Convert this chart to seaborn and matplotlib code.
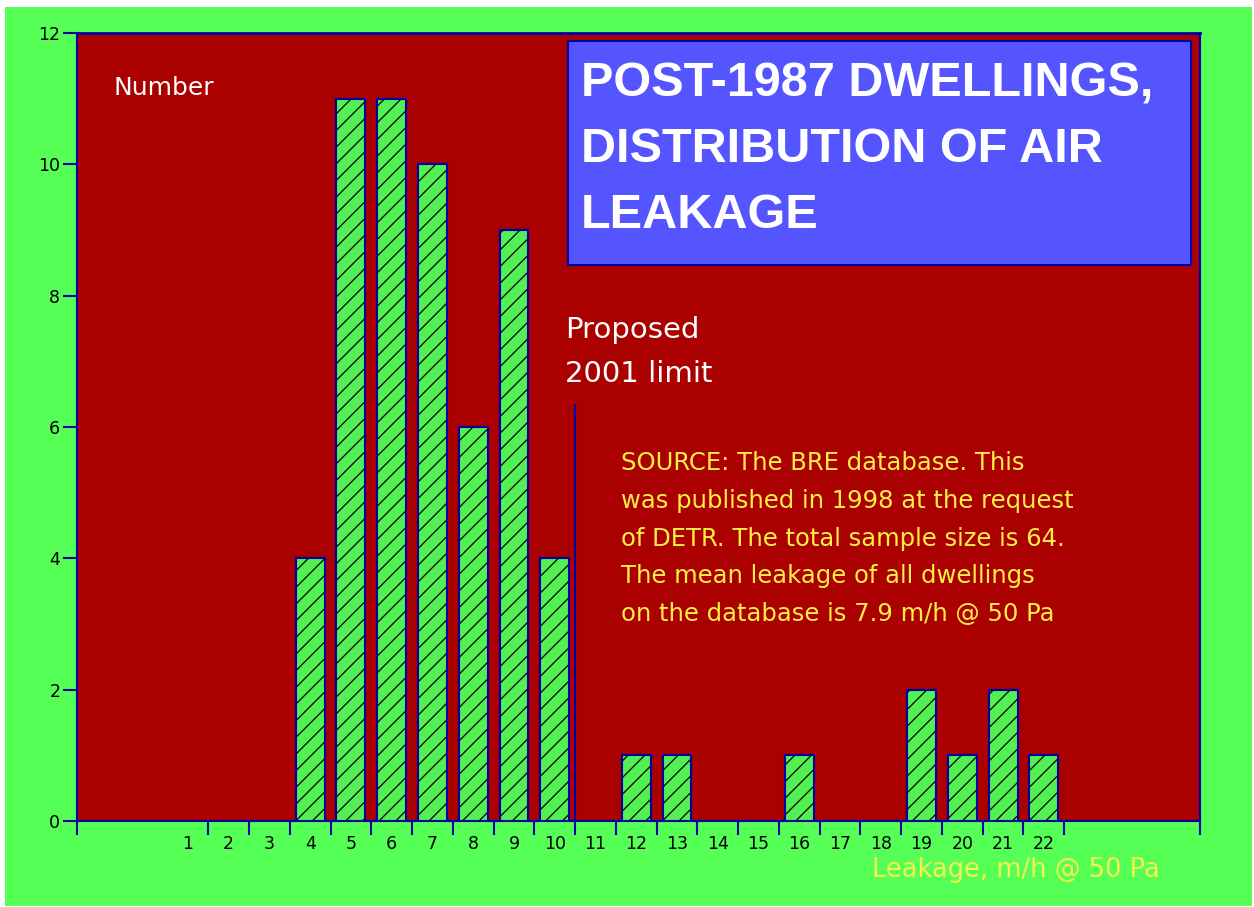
import matplotlib
matplotlib.use("Agg")
import matplotlib.pyplot as plt
import seaborn as sns
import pandas as pd
from matplotlib.patches import Rectangle

# ---------------- data ----------------
leakage_bins = [str(i) for i in range(1, 23)]
bar_bins = ["4", "5", "6", "7", "8", "9", "10", "12", "13", "16", "19", "20", "21", "22"]
bar_counts = [4, 11, 11, 10, 6, 9, 4, 1, 1, 1, 2, 1, 2, 1]
y_ticks = [0, 2, 4, 6, 8, 10, 12]
limit_after_bin = "10"      # proposed 2001 limit sits between bins 10 and 11
limit_height = 6.33
title_lines = ["POST-1987 DWELLINGS,", "DISTRIBUTION OF AIR", "LEAKAGE"]
source_lines = [
    "SOURCE: The BRE database. This",
    "was published in 1998 at the request",
    "of DETR. The total sample size is 64.",
    "The mean leakage of all dwellings",
    "on the database is 7.9 m/h @ 50 Pa",
]
limit_lines = ["Proposed", "2001 limit"]
y_label = "Number"
x_label = "Leakage, m/h @ 50 Pa"

# ---------------- style ----------------
GREEN = "#55FF55"
BAR_GREEN = "#52F052"
RED = "#AA0000"
EDGE_BLUE = "#0000AA"
BOX_BLUE = "#5555FF"
YELLOW = "#FFEE44"
YELLOW2 = "#F4F050"

sns.set_style("white")
plt.rcParams["font.family"] = ["DejaVu Sans"]
plt.rcParams["hatch.linewidth"] = 0.9

W, H = 1254, 907
fig = plt.figure(figsize=(W / 100, H / 100), dpi=100, facecolor="white")
fig.add_artist(Rectangle((5 / W, 1 / H), 1 - 7 / W, 1 - 8 / H, transform=fig.transFigure,
                         facecolor=GREEN, edgecolor="none", zorder=-10))

L, R, T, B = 77, 1200, 33, 821
ax = fig.add_axes([L / W, 1 - B / H, (R - L) / W, (B - T) / H])
ax.set_facecolor(RED)


def af(xpx, ypx):
    return ((xpx - L) / (R - L), (B - ypx) / (B - T))


df = pd.DataFrame({"bin": bar_bins, "count": bar_counts})
sns.barplot(data=df, x="bin", y="count", order=leakage_bins, color=BAR_GREEN,
            saturation=1, width=0.71, edgecolor=EDGE_BLUE, linewidth=1.5,
            hatch="//", errorbar=None, ax=ax, zorder=3)
for p in ax.patches:
    if hasattr(p, "set_hatchcolor"):
        p.set_hatchcolor("black")
    else:
        p._hatch_color = (0, 0, 0, 1)
    p.stale = True

n = len(leakage_bins)
xmin, xmax = -2.72, 24.83
ax.set_xlim(xmin, xmax)
ax.set_ylim(0, 12)
ax.set_xlabel("")
ax.set_ylabel("")

boundaries = [xmin] + [i + 0.5 for i in range(n)] + [xmax]
ax.set_xticks(boundaries, labels=[""] * len(boundaries))
ax.set_xticks(list(range(n)), labels=leakage_bins, minor=True)
ax.tick_params(axis="x", which="major", direction="out", length=10, width=1.5,
               color=EDGE_BLUE, bottom=True)
ax.tick_params(axis="x", which="minor", length=0, pad=10, labelsize=12.5,
               labelcolor="black", bottom=True, labelbottom=True)
ax.set_yticks(y_ticks)
ax.tick_params(axis="y", which="major", direction="out", length=10, width=1.5,
               color=EDGE_BLUE, labelsize=12.5, labelcolor="black", pad=2, left=True)
for s in ax.spines.values():
    s.set_visible(True)
    s.set_color(EDGE_BLUE)
    s.set_linewidth(1.5)
ax.spines["top"].set_linewidth(2)

# proposed limit line
lim_x = leakage_bins.index(limit_after_bin) + 0.5
ax.plot([lim_x, lim_x], [0, limit_height], color=EDGE_BLUE, lw=1.5, zorder=4)

# title box
x0, y1 = af(568, 41)
x1, y0 = af(1191, 265)
ax.add_patch(Rectangle((x0, y0), x1 - x0, y1 - y0, transform=ax.transAxes,
                       facecolor=BOX_BLUE, edgecolor=EDGE_BLUE, lw=1.5, zorder=5))
for line, ypx in zip(title_lines, [84, 150, 216]):
    ax.text(*af(581, ypx), line, transform=ax.transAxes, ha="left", va="center",
            fontsize=35, fontweight="bold", family=["Liberation Sans"], color="white", zorder=6)

# texts
ax.text(*af(113, 88), y_label, transform=ax.transAxes, ha="left", va="center",
        fontsize=18, color="white", zorder=6)
for line, ypx in zip(limit_lines, [330, 374]):
    ax.text(*af(565, ypx), line, transform=ax.transAxes, ha="left", va="center",
            fontsize=21, color="white", zorder=6)
for i, line in enumerate(source_lines):
    ax.text(*af(621, 463 + i * 37.8), line, transform=ax.transAxes, ha="left", va="center",
            fontsize=17.5, color=YELLOW, zorder=6)
fig.text(872 / W, 1 - 870 / H, x_label, ha="left", va="center", fontsize=18.5, color=YELLOW2)

fig.savefig("out.png", dpi=100, facecolor=fig.get_facecolor())
